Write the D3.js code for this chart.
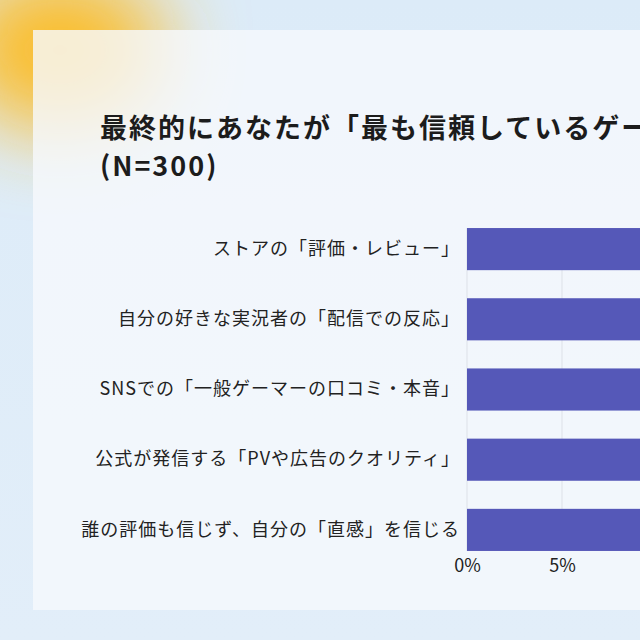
<!doctype html>
<html lang="ja">
<head>
<meta charset="utf-8">
<title>最も信頼しているゲーム情報源</title>
<style>
  html, body { margin: 0; padding: 0; background: #deebf8; }
  svg { display: block; font-family: "Noto Sans CJK JP", "Noto Sans", sans-serif; }
</style>
</head>
<body>
<div id="chart"></div>
<script src="https://cdn.jsdelivr.net/npm/d3@7/dist/d3.min.js"></script>
<script>
// data (bars run past the right edge, so values are estimates)
var categories = [
  "ストアの「評価・レビュー」",
  "自分の好きな実況者の「配信での反応」",
  "SNSでの「一般ゲーマーの口コミ・本音」",
  "公式が発信する「PVや広告のクオリティ」",
  "誰の評価も信じず、自分の「直感」を信じる"
];
var values = [32.0, 24.3, 18.7, 13.3, 11.7];
var tickValues = [0, 5, 10, 15, 20, 25, 30];
var titleLines = ["最終的にあなたが「最も信頼しているゲーム情報源」は何ですか？", "(N=300)"];

var width = 640, height = 640;

var svg = d3.select("#chart").append("svg")
    .attr("width", width)
    .attr("height", height);

var defs = svg.append("defs");
defs.append("linearGradient")
    .attr("id", "bg")
    .attr("x1", 0).attr("y1", 0).attr("x2", 0).attr("y2", 1)
  .selectAll("stop")
  .data([["0%", "#dcebf8"], ["100%", "#e2eef9"]])
  .enter().append("stop")
    .attr("offset", function(d) { return d[0]; })
    .attr("stop-color", function(d) { return d[1]; });
defs.append("filter")
    .attr("id", "blur")
    .attr("x", "-100%").attr("y", "-100%").attr("width", "300%").attr("height", "300%")
  .append("feGaussianBlur")
    .attr("stdDeviation", 40);

// background, warm glow, card
svg.append("rect").attr("width", width).attr("height", height).attr("fill", "url(#bg)");
svg.append("ellipse")
    .attr("cx", 60).attr("cy", 50)
    .attr("rx", 105).attr("ry", 80)
    .attr("fill", "#fbbd2c")
    .attr("filter", "url(#blur)");
svg.append("rect")
    .attr("x", 33).attr("y", 30)
    .attr("width", 700).attr("height", 580)
    .attr("fill", "#f6f9fd")
    .attr("fill-opacity", 0.8);

// title
svg.append("g")
  .selectAll("text")
  .data(titleLines)
  .enter().append("text")
    .attr("x", 100)
    .attr("y", function(d, i) { return 138 + i * 38; })
    .attr("fill", "#1c1c1c")
    .attr("font-size", 27)
    .attr("font-weight", "bold")
    .attr("letter-spacing", 2)
    .text(function(d) { return d; });

// scales
var x = d3.scaleLinear()
    .domain([0, 30])
    .range([467, 467 + 570]);

var y = d3.scaleBand()
    .domain(categories)
    .range([214, 565])
    .paddingInner(0.4)
    .paddingOuter(0.2);

var bandTop = y(categories[0]);
var bandBottom = y(categories[categories.length - 1]) + y.bandwidth();

// grid
svg.append("g")
  .selectAll("line")
  .data(tickValues)
  .enter().append("line")
    .attr("x1", function(d) { return x(d); })
    .attr("x2", function(d) { return x(d); })
    .attr("y1", bandTop)
    .attr("y2", bandBottom)
    .attr("stroke", "#dde1e8")
    .attr("stroke-width", 1);

// bars
svg.append("g")
  .selectAll("rect")
  .data(values)
  .enter().append("rect")
    .attr("x", x(0))
    .attr("y", function(d, i) { return y(categories[i]); })
    .attr("width", function(d) { return x(d) - x(0); })
    .attr("height", y.bandwidth())
    .attr("fill", "#5558b8");

// category axis
var yAxis = svg.append("g")
    .attr("transform", "translate(" + x(0) + ",0)")
    .call(d3.axisLeft(y).tickSize(0).tickPadding(7));
yAxis.select(".domain").remove();
yAxis.selectAll("text")
    .attr("fill", "#222")
    .attr("font-size", 18)
    .attr("letter-spacing", 1)
    .attr("font-family", "\"Noto Sans CJK JP\", sans-serif");

// value axis
var xAxis = svg.append("g")
    .attr("transform", "translate(0," + bandBottom + ")")
    .call(d3.axisBottom(x).tickValues(tickValues).tickSize(0).tickPadding(8)
      .tickFormat(function(d) { return d + "%"; }));
xAxis.select(".domain").remove();
xAxis.selectAll("text")
    .attr("fill", "#222")
    .attr("font-size", 18)
    .attr("font-family", "\"Noto Sans CJK JP\", sans-serif");
</script>
</body>
</html>
